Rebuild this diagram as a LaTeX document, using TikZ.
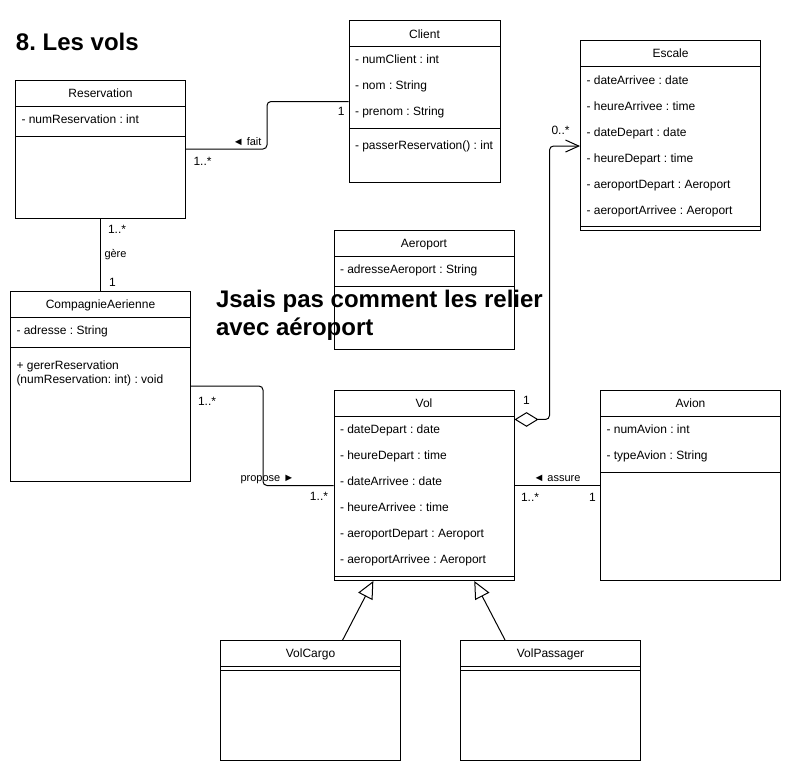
\documentclass[tikz,border=0pt]{standalone}
\usepackage{fontspec}
\setmainfont{Liberation Sans}
\usetikzlibrary{positioning,arrows.meta}
\frenchspacing

\begin{document}
\begin{tikzpicture}[x=0.75pt,y=-0.75pt,line width=0.75pt,
  cls/.style={draw,inner sep=0pt,minimum width=135pt,minimum height=142.5pt},
  cname/.style={anchor=base,inner sep=0pt,font=\fontsize{9}{11}\selectfont},
  attr/.style={anchor=base west,inner sep=0pt,font=\fontsize{9}{11}\selectfont},
  mult/.style={inner sep=0pt,font=\fontsize{9}{11}\selectfont},
  lbl/.style={inner sep=0pt,font=\fontsize{8.25}{10}\selectfont},
  big/.style={anchor=base west,inner sep=0pt,font=\fontsize{18}{21}\selectfont\bfseries}]
\useasboundingbox (0,0) rectangle (791,771);

% titres
\node[big] (titre) at (15.5,50) {8. Les vols};
\node[big] (note) at (215.5,307) {Jsais pas comment les relier};
\node[big] (note2) at (215.5,335) {avec aéroport};

% Reservation
\node[cls,minimum width=127.5pt,minimum height=103.5pt] (resa) at (100.5,149) {};
\draw (15.5,106) -- (185.5,106) (15.5,136) -- (185.5,136);
\node[cname] (resaT) at (100.5,97.3) {Reservation};
\node[attr] (resa1) at (21,123.3) {- numReservation : int};

% Client
\node[cls,minimum width=113.25pt,minimum height=121.5pt] (client) at (424.5,101.5) {};
\draw (349,46.5) -- (500,46.5) (349,128.5) -- (500,128.5);
\node[cname] (clientT) at (424.5,38.3) {Client};
\node[attr] (client1) at (354.5,63.8) {- numClient : int};
\node[attr] (client2) at (354.5,89.8) {- nom : String};
\node[attr] (client3) at (354.5,115.8) {- prenom : String};
\node[attr] (client4) at (354.5,149.8) {- passerReservation() : int};

% Escale
\node[cls] (escale) at (670.5,135.5) {};
\draw (580.5,66.5) -- (760.5,66.5) (580.5,226.5) -- (760.5,226.5);
\node[cname] (escaleT) at (670.5,57.8) {Escale};
\node[attr] (escale1) at (586,84.3) {- dateArrivee : date};
\node[attr] (escale2) at (586,110.3) {- heureArrivee : time};
\node[attr] (escale3) at (586,136.3) {- dateDepart : date};
\node[attr] (escale4) at (586,162.3) {- heureDepart : time};
\node[attr] (escale5) at (586,188.3) {- aeroportDepart : Aeroport};
\node[attr] (escale6) at (586,214.3) {- aeroportArrivee : Aeroport};

% Aeroport
\node[cls,minimum height=89.6pt] (aero) at (424,290.25) {};
\draw (334,256.5) -- (514,256.5) (334,286.5) -- (514,286.5);
\node[cname] (aeroT) at (424,247.8) {Aeroport};
\node[attr] (aero1) at (339.5,273.8) {- adresseAeroport : String};

% CompagnieAerienne
\node[cls] (comp) at (100.5,386) {};
\draw (10.5,317) -- (190.5,317) (10.5,347) -- (190.5,347);
\node[cname] (compT) at (100.5,308.3) {CompagnieAerienne};
\node[attr] (comp1) at (16,334.3) {- adresse : String};
\node[attr] (comp2) at (16,369.3) {+ gererReservation};
\node[attr] (comp3) at (16,383) {(numReservation: int) : void};

% Vol
\node[cls] (vol) at (424,485.5) {};
\draw (334,416.5) -- (514,416.5) (334,576.5) -- (514,576.5);
\node[cname] (volT) at (424,407.8) {Vol};
\node[attr] (vol1) at (339.5,433.8) {- dateDepart : date};
\node[attr] (vol2) at (339.5,459.8) {- heureDepart : time};
\node[attr] (vol3) at (339.5,485.8) {- dateArrivee : date};
\node[attr] (vol4) at (339.5,511.8) {- heureArrivee : time};
\node[attr] (vol5) at (339.5,537.8) {- aeroportDepart : Aeroport};
\node[attr] (vol6) at (339.5,563.8) {- aeroportArrivee : Aeroport};

% Avion
\node[cls] (avion) at (690.5,485.5) {};
\draw (600.5,416.5) -- (780.5,416.5) (600.5,472.5) -- (780.5,472.5);
\node[cname] (avionT) at (690.5,407.8) {Avion};
\node[attr] (avion1) at (606,433.8) {- numAvion : int};
\node[attr] (avion2) at (606,459.8) {- typeAvion : String};

% VolCargo / VolPassager
\node[cls,minimum height=90pt] (cargo) at (310.5,700.5) {};
\draw (220.5,666.5) -- (400.5,666.5) (220.5,670.5) -- (400.5,670.5);
\node[cname] (cargoT) at (310.5,657.8) {VolCargo};
\node[cls,minimum height=90pt] (pass) at (550.5,700.5) {};
\draw (460.5,666.5) -- (640.5,666.5) (460.5,670.5) -- (640.5,670.5);
\node[cname] (passT) at (550.5,657.8) {VolPassager};

% associations
\draw[rounded corners=3pt] (resa.east) -- ++(81,0) |- (client.west);
\node[lbl,anchor=base east] (fait) at (262,145) {◄ fait};
\node[mult,anchor=base west] (m1) at (193,165) {1..*};
\node[mult,anchor=base east] (m2) at (345,115) {1};

\draw (resa.south) -- (comp.north);
\node[mult,anchor=base west] (m3) at (107.5,233.3) {1..*};
\node[lbl,anchor=base west] (gere) at (104,257) {gère};
\node[mult,anchor=base west] (m4) at (108.5,286.3) {1};

\draw[rounded corners=3pt] (comp.east) -- ++(72,0) |- (vol.west);
\node[lbl,anchor=base west] (propose) at (240,481.7) {propose ►};
\node[mult,anchor=base west] (m5) at (197.5,405) {1..*};
\node[mult,anchor=base east] (m6) at (328.5,500.3) {1..*};

\draw (vol.east) -- (avion.west);
\node[lbl,anchor=base west] (assure) at (533,481.7) {◄ assure};
\node[mult,anchor=base west] (m7) at (520.5,501.3) {1..*};
\node[mult,anchor=base west] (m8) at (588.5,501.3) {1};

\draw[{Diamond[open,length=18pt,width=11pt]}-{Straight Barb[length=10pt,width=9pt]},rounded corners=3pt]
  ([yshift=-22.1pt]vol.north east) -- ++(35,0) |- ([yshift=-7.9pt]escale.west);
\node[mult,anchor=base west] (m9) at (522.5,404.3) {1};
\node[mult,anchor=base west] (m10) at (551,134.3) {0..*};

% heritage
\draw[-{Triangle[open,length=13pt,width=12pt]}] ([xshift=24.1pt]cargo.north) -- ([xshift=-38pt]vol.south);
\draw[-{Triangle[open,length=13pt,width=12pt]}] ([xshift=-34.1pt]pass.north) -- ([xshift=37.7pt]vol.south);
\end{tikzpicture}
\end{document}
